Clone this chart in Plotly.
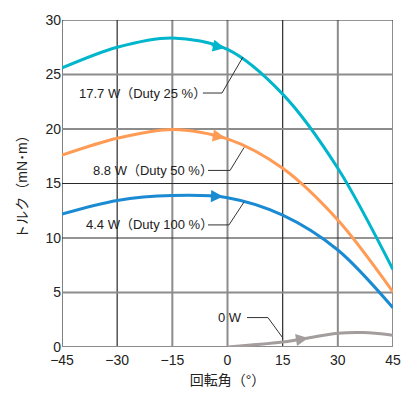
import numpy as np
import plotly.graph_objects as go

angles = [-45, -30, -15, 0, 15, 30, 45]
torque_17_7W = [25.6, 27.5, 28.35, 27.3, 23.2, 16.4, 7.1]
torque_8_8W = [17.6, 19.15, 19.95, 19.1, 16.4, 11.65, 5.05]
torque_4_4W = [12.2, 13.45, 13.9, 13.7, 12.1, 8.9, 3.6]
angles_0W = [0, 15, 30, 37, 45]
torque_0W = [0.0, 0.45, 1.26, 1.32, 1.08]

x_ticks = [-45, -30, -15, 0, 15, 30, 45]
y_ticks = [0, 5, 10, 15, 20, 25, 30]
x_dark = [-45, -30, 15]
y_dark = [30, 15, 10]

FONT = "Liberation Sans, Noto Sans CJK JP, sans-serif"
C_CYAN = "#00b5cc"
C_ORANGE = "#ff9b55"
C_BLUE = "#1a8ad2"
C_GRAY = "#a39d9d"

fig = go.Figure()

series = [
    ("17.7 W（Duty 25 %）", angles, torque_17_7W, C_CYAN, -0.7),
    ("8.8 W（Duty 50 %）", angles, torque_8_8W, C_ORANGE, -0.7),
    ("4.4 W（Duty 100 %）", angles, torque_4_4W, C_BLUE, -1.2),
    ("0 W", angles_0W, torque_0W, C_GRAY, 21.9),
]

# grid lines
for v in x_ticks:
    dark = v in x_dark
    fig.add_shape(type="line", xref="x", yref="y", x0=v, x1=v, y0=0, y1=30,
                  line=dict(color="#2a2a2a" if dark else "#8c8c8c", width=1.2 if dark else 2),
                  layer="below")
for v in y_ticks:
    dark = v in y_dark
    fig.add_shape(type="line", xref="x", yref="y", x0=-45, x1=45, y0=v, y1=v,
                  line=dict(color="#2a2a2a" if dark else "#8c8c8c", width=1.2 if dark else 2),
                  layer="below")

for name, xs, ys, col, ax_tip in series:
    fig.add_trace(go.Scatter(x=xs, y=ys, mode="lines", name=name,
                             line=dict(color=col, width=3, shape="spline", smoothing=0.9),
                             showlegend=False, hoverinfo="skip", cliponaxis=False))
    # arrowhead along the curve
    tail = ax_tip - 4
    off = 0.08 if name != "0 W" else 0.0
    fig.add_annotation(x=ax_tip, y=float(np.interp(ax_tip, xs, ys)) + off,
                       ax=tail, ay=float(np.interp(tail, xs, ys)) + off,
                       xref="x", yref="y", axref="x", ayref="y",
                       showarrow=True, arrowhead=2, arrowsize=1.1, arrowwidth=2.2,
                       arrowcolor=col, text="")

# leader lines and labels
leaders = [
    ("17.7 W（Duty 25 %）", [-6.7, -1.5, 4.2], [23.3, 23.3, 26.6], -5.3),
    ("8.8 W（Duty 50 %）", [-5.3, 0.7, 4.5], [16.2, 16.2, 18.3], -3.5),
    ("4.4 W（Duty 100 %）", [-5.3, 0.4, 4.5], [11.2, 11.2, 13.3], -3.5),
]
for text, lx, ly, tx in leaders:
    fig.add_trace(go.Scatter(x=lx, y=ly, mode="lines",
                             line=dict(color="#333333", width=1),
                             showlegend=False, hoverinfo="skip"))
    fig.add_annotation(x=tx, y=ly[0], xref="x", yref="y", text=text, showarrow=False,
                       xanchor="right", yanchor="middle",
                       font=dict(family=FONT, size=13, color="#222222"))

fig.add_trace(go.Scatter(x=[5.3, 11.0, 15.1], y=[2.7, 2.7, 0.8], mode="lines",
                         line=dict(color="#333333", width=1),
                         showlegend=False, hoverinfo="skip"))
fig.add_annotation(x=4.5, y=2.7, xref="x", yref="y", text="0 W", showarrow=False,
                   xanchor="right", yanchor="middle",
                   font=dict(family=FONT, size=13, color="#222222"))

fig.update_layout(
    width=420, height=398,
    margin=dict(l=62, r=27, t=15, b=51),
    paper_bgcolor="white", plot_bgcolor="white",
    font=dict(family=FONT, size=14, color="#222222"),
    xaxis=dict(range=[-45, 45], tickvals=x_ticks, showgrid=False, zeroline=False,
               showline=False, ticks="", tickfont=dict(size=14), ticklabelstandoff=3,
               title=dict(text="回転角（°）", font=dict(size=14), standoff=8)),
    yaxis=dict(range=[0, 30], tickvals=y_ticks, showgrid=False, zeroline=False,
               showline=False, ticks="", tickfont=dict(size=14),
               title=dict(text="トルク（mN･m）", font=dict(size=14), standoff=14)),
)

fig.write_html("out.html", config={"displayModeBar": False},
               post_script="document.body.style.margin='0';document.body.style.overflow='hidden';")
